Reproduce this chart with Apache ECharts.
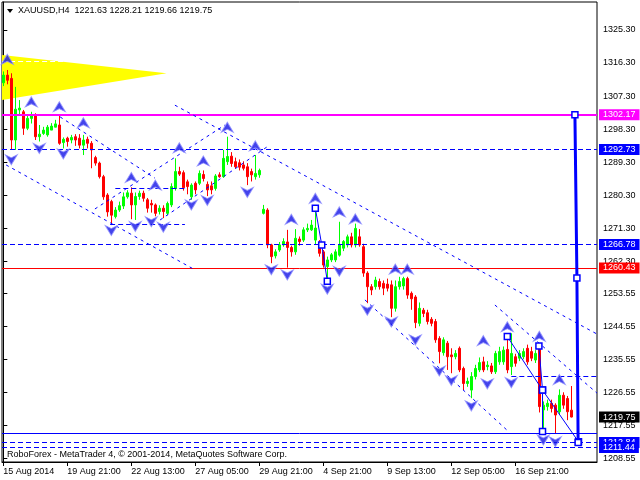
<!DOCTYPE html>
<html><head><meta charset="utf-8">
<script src="https://cdn.jsdelivr.net/npm/echarts@6/dist/echarts.min.js"></script>
<style>html,body{margin:0;padding:0;background:#fff}#c{width:640px;height:480px}</style>
</head><body><div id="c"></div>
<script>
const symbolTitle = 'XAUUSD,H4  1221.63 1228.21 1219.66 1219.75';
const copyright = 'RoboForex - MetaTrader 4, \u00a9 2001-2014, MetaQuotes Software Corp.';
const opens  = [1310.9,1313.0,1312.1,1295.3,1303.5,1303.0,1298.5,1301.2,1302.1,1296.2,1297.1,1296.7,1298.0,1298.8,1299.4,1294.6,1295.8,1295.3,1296.2,1295.8,1293.9,1295.5,1294.4,1290.5,1289.0,1285.3,1280.3,1278.5,1274.4,1276.2,1277.3,1279.8,1280.8,1277.6,1279.9,1280.8,1279.0,1278.0,1277.6,1275.8,1276.7,1275.3,1277.6,1282.1,1286.7,1286.4,1283.9,1279.8,1283.5,1283.5,1285.9,1283.2,1282.8,1282.1,1285.8,1285.3,1289.4,1290.9,1289.4,1289.1,1288.5,1288.0,1286.7,1285.3,1285.8,1275.3,1276.2,1266.7,1263.7,1265.3,1266.7,1267.5,1266.0,1264.8,1268.3,1268.0,1270.8,1270.8,1268.0,1267.1,1264.8,1260.8,1262.6,1262.6,1263.9,1265.8,1266.7,1268.9,1266.7,1268.9,1266.2,1259.0,1255.3,1255.3,1256.7,1256.2,1256.0,1255.8,1249.4,1255.3,1255.5,1257.5,1253.5,1252.5,1245.3,1248.9,1248.2,1246.4,1245.8,1241.2,1237.3,1239.9,1236.7,1236.2,1238.5,1233.0,1228.9,1227.1,1230.8,1232.6,1234.8,1233.5,1233.7,1232.1,1234.8,1234.8,1238.2,1233.5,1236.2,1235.8,1236.2,1238.5,1237.6,1235.3,1238.8,1221.7,1222.6,1223.5,1223.0,1221.2,1225.7,1224.8,1221.63];
const highs  = [1314.0,1314.4,1313.5,1309.8,1306.2,1303.5,1302.1,1303.0,1302.6,1299.4,1298.9,1299.4,1299.9,1300.8,1302.1,1296.0,1296.2,1296.7,1296.9,1296.9,1296.7,1296.2,1295.0,1291.0,1289.4,1285.8,1280.8,1279.0,1277.0,1278.5,1281.0,1281.6,1282.4,1281.0,1281.5,1281.5,1279.5,1279.0,1278.0,1277.5,1277.5,1278.5,1283.5,1290.3,1288.0,1287.0,1284.5,1283.5,1284.0,1287.0,1287.0,1284.0,1284.0,1286.0,1286.5,1292.6,1296.2,1292.0,1290.5,1290.0,1289.5,1289.0,1287.5,1291.2,1287.5,1277.6,1276.7,1267.0,1265.5,1267.5,1268.5,1270.8,1266.5,1271.0,1269.0,1271.5,1272.5,1273.5,1276.7,1268.0,1265.3,1263.5,1264.5,1265.5,1273.0,1268.0,1269.5,1270.0,1272.5,1271.0,1267.0,1259.5,1256.0,1258.0,1257.5,1257.0,1257.5,1257.0,1257.0,1258.0,1258.0,1258.0,1254.0,1253.0,1251.0,1249.5,1249.0,1247.0,1246.5,1241.8,1241.5,1240.5,1238.5,1238.0,1239.0,1233.5,1230.5,1232.0,1234.0,1236.0,1236.2,1235.0,1234.5,1237.8,1238.9,1239.0,1241.2,1242.6,1237.0,1238.0,1238.5,1239.5,1238.9,1238.0,1239.3,1224.0,1224.5,1224.5,1223.5,1227.3,1226.5,1225.5,1228.21];
const lows   = [1310.0,1310.5,1292.6,1292.6,1302.1,1296.7,1298.0,1299.8,1295.3,1294.9,1296.7,1296.2,1298.0,1298.8,1294.0,1293.0,1293.5,1294.4,1293.7,1293.0,1291.2,1293.0,1287.6,1288.3,1284.8,1279.0,1274.4,1272.1,1273.9,1275.7,1276.5,1279.3,1273.7,1273.5,1279.0,1278.5,1275.5,1275.5,1274.5,1275.0,1274.0,1274.8,1277.0,1281.5,1285.5,1281.5,1280.5,1279.0,1280.5,1283.0,1284.0,1280.0,1280.5,1281.5,1285.0,1285.0,1288.5,1288.0,1287.5,1287.0,1287.0,1283.0,1284.0,1284.5,1285.0,1275.0,1265.8,1261.7,1263.0,1264.8,1266.2,1260.5,1263.5,1264.0,1266.5,1267.5,1270.2,1270.5,1266.7,1263.5,1260.5,1257.0,1262.0,1262.0,1263.5,1265.0,1266.0,1266.0,1266.0,1266.2,1258.0,1250.8,1253.0,1254.5,1254.5,1253.0,1254.0,1247.0,1248.5,1254.5,1254.5,1252.0,1249.0,1244.0,1244.5,1247.0,1245.0,1244.5,1240.0,1234.4,1236.5,1232.6,1231.7,1235.5,1232.0,1227.1,1228.0,1224.9,1230.0,1232.0,1232.0,1232.5,1231.5,1231.5,1234.0,1234.0,1231.7,1231.2,1233.5,1235.0,1235.5,1234.0,1235.0,1234.5,1221.0,1215.9,1221.5,1221.0,1215.3,1220.5,1222.0,1218.9,1219.66];
const closes = [1313.0,1311.6,1295.3,1303.7,1304.0,1298.5,1301.2,1301.9,1296.2,1296.9,1298.0,1298.8,1299.1,1299.7,1294.4,1295.5,1294.9,1296.0,1295.3,1293.9,1295.3,1294.4,1292.6,1289.0,1285.3,1279.8,1275.7,1274.8,1276.2,1277.4,1279.8,1280.9,1277.6,1279.9,1280.8,1279.4,1276.7,1277.6,1275.3,1276.7,1275.8,1278.0,1282.6,1286.7,1286.0,1282.3,1282.6,1283.0,1281.7,1286.2,1284.8,1281.7,1281.7,1285.5,1285.3,1290.3,1290.8,1288.9,1288.0,1287.9,1287.6,1285.3,1285.8,1286.2,1287.0,1276.4,1266.7,1263.5,1264.8,1266.7,1267.6,1266.0,1264.8,1268.5,1267.6,1270.8,1271.2,1272.1,1271.3,1264.4,1261.2,1262.6,1264.0,1264.8,1266.7,1267.6,1268.9,1266.7,1271.2,1266.7,1259.0,1255.3,1254.4,1257.1,1255.3,1254.9,1254.9,1249.4,1255.3,1256.7,1257.5,1253.0,1252.0,1245.5,1249.4,1248.0,1245.8,1245.3,1240.8,1237.6,1240.8,1236.2,1236.2,1237.1,1232.6,1228.9,1229.5,1230.8,1233.0,1234.6,1232.6,1233.9,1232.1,1237.1,1237.6,1238.0,1232.6,1237.1,1234.4,1237.1,1237.6,1234.8,1235.8,1237.1,1222.6,1223.0,1223.5,1222.1,1220.3,1225.7,1223.0,1221.2,1219.75];
const timeTickIndex  = [0,16,32,48,64,80,96,112,128];
const timeTickLabels = ['15 Aug 2014','19 Aug 21:00','22 Aug 13:00','27 Aug 05:00','29 Aug 21:00','4 Sep 21:00','9 Sep 13:00','12 Sep 05:00','16 Sep 21:00'];
const priceTicks = [1325.30,1316.30,1307.30,1298.30,1289.30,1280.30,1271.30,1262.30,1253.55,1244.55,1235.55,1226.55,1217.55,1208.55];
const upFractals = [[1,1317.3],[7,1305.7],[14,1304.4],[20,1300.0],[32,1285.1],[38,1283.0],[44,1293.2],[50,1289.6],[56,1298.8],[63,1293.7],[72,1273.7],[78,1279.4],[84,1275.7],[88,1273.8],[98,1260.1],[101,1260.1],[120,1240.6],[126,1244.4],[134,1241.8],[139,1230.0]];
const downFractals = [[2,1289.9],[9,1293.0],[15,1291.5],[27,1270.6],[33,1271.7],[37,1273.0],[40,1271.5],[47,1277.6],[51,1278.8],[61,1281.0],[67,1259.9],[71,1258.5],[81,1254.6],[84,1259.5],[91,1248.9],[97,1245.7],[103,1240.8],[109,1232.3],[112,1229.7],[117,1222.8],[121,1228.8],[127,1229.1],[135,1213.5],[138,1213.0]];
const resistance = 1302.17, level2 = 1292.73, level3 = 1266.78, support = 1260.43;
const lowLine = 1215.3, target1 = 1212.84, target2 = 1211.44;
const bid = closes[closes.length - 1];
const diagLines = [
  [[42.9,1304.8],[148.4,1242.4]],
  [[0.7,1288.5],[47.9,1259.9]],
  [[14.2,1301.6],[37.9,1284.9]],
  [[22.9,1276.5],[55.4,1299.4]],
  [[39.2,1273.5],[65.9,1293.4]],
  [[90.4,1251.7],[125.9,1216.2]],
  [[122.9,1250.3],[148.4,1226.3]]
];
const shortLevels = [
  [[26.7,1272.4],[45.4,1272.4]],
  [[28,1282.1],[46,1282.1]],
  [[127,1230.9],[148.4,1230.9]]
];
const triangleLine = [[-0.3,1316.7],[26.7,1316.7]];
const triangle = [[-0.33,1318.5],[40.8,1313.5],[-0.33,1306.2]];
const zig1 = [[78,1276.7],[79.6,1266.7],[81,1256.8]];
const zig2 = [[126,1241.7],[134.8,1227.1],[143.8,1213.0]];
const zig3 = [[133.9,1239.1],[134.8,1227.1],[134.8,1215.8]];
const projection = [[142.9,1302.17],[143.4,1257.7],[143.7,1212.84]];

const FONT = 'Liberation Sans';
const BLUE = '#0000ff';
const chart = echarts.init(document.getElementById('c'), null, {renderer:'canvas'});

function lvl(v, color, type, width, showLabel, bg) {
  return {
    yAxis: v,
    lineStyle: {color: color, type: type, width: width},
    label: showLabel ? {show:true, position:'end', distance:2, formatter: v.toFixed(2),
      color:'#fff', backgroundColor: bg || color, padding:[1,4,0,4], fontSize:9, lineHeight:10, fontFamily:FONT} : {show:false}
  };
}
const markData = [
  lvl(level2, BLUE, [5,3], 1, true),
  lvl(level3, BLUE, [5,3], 1, true),
  lvl(support, '#ff0000', 'solid', 1, true),
  lvl(lowLine, BLUE, 'solid', 1, false),
  lvl(target1, BLUE, [5,3], 1, true),
  lvl(target2, BLUE, [5,3], 1, true),
  lvl(resistance, '#ff00ff', 'solid', 2, true),
  lvl(bid, 'rgba(0,0,0,0)', 'solid', 1, true, '#000')
];
diagLines.forEach(l => markData.push([{coord:l[0], lineStyle:{color:BLUE, type:[3,4], width:1}, label:{show:false}}, {coord:l[1]}]));
shortLevels.forEach(l => markData.push([{coord:l[0], lineStyle:{color:BLUE, type:[5,3], width:1}, label:{show:false}}, {coord:l[1]}]));
markData.push([{coord:triangleLine[0], lineStyle:{color:'#fff', type:[5,3], width:1}, label:{show:false}}, {coord:triangleLine[1]}]);

const upSym = 'path://M6,0L12,10L6,7L0,10Z';
const dnSym = 'path://M0,0L6,3L12,0L6,10Z';

function zigSeries(pts, width) {
  return {type:'line', data: pts, symbol:'rect', symbolSize:6, showSymbol:true,
    lineStyle:{color:BLUE, width:width}, itemStyle:{color:'#fff', borderColor:BLUE, borderWidth:1.5},
    z: 7, silent:true};
}

chart.setOption({
  animation:false,
  textStyle:{fontFamily:FONT},
  grid:{left:2, top:2, right:43, bottom:18, show:true, borderColor:'#000', borderWidth:1, backgroundColor:'#fff'},
  xAxis:{type:'value', min:-0.33, max:148.42,
    axisLine:{show:true, lineStyle:{color:'#000'}},
    axisTick:{show:true, customValues: timeTickIndex, length:4, lineStyle:{color:'#000'}},
    axisLabel:{show:true, customValues: timeTickIndex, formatter: v => timeTickLabels[timeTickIndex.indexOf(Math.round(v))] || '',
      align:'left', margin:5, fontSize:9, color:'#000', fontFamily:FONT},
    splitLine:{show:false}},
  yAxis:{type:'value', position:'right', min:1207.49, max:1332.94, scale:true,
    axisLine:{show:true, lineStyle:{color:'#000'}},
    axisTick:{show:true, customValues: priceTicks, length:4, lineStyle:{color:'#000'}},
    axisLabel:{show:true, customValues: priceTicks, formatter: v => Number(v).toFixed(2), margin:6, fontSize:9, color:'#000', fontFamily:FONT},
    splitLine:{show:false}},
  graphic:[
    {type:'polygon', shape:{points:[[7,9],[13,9],[10,13]]}, style:{fill:'#000'}, z:100},
    {type:'text', left:18, top:6, style:{text:symbolTitle, fontSize:9, fill:'#000', fontFamily:FONT}, z:100},
    {type:'text', left:7, top:450, style:{text:copyright, fontSize:9, fill:'#000', fontFamily:FONT}, z:100}
  ],
  series:[
    {type:'custom', silent:true, z:1, data:[triangle[1]],
      renderItem:(params, api) => ({type:'polygon', shape:{points: triangle.map(p => api.coord(p))}, style:{fill:'#ffff00'}})},
    {type:'candlestick', z:2, barWidth:3,
      data: opens.map((o,i) => [i, o, closes[i], lows[i], highs[i]]),
      encode:{x:0, y:[1,2,3,4]},
      itemStyle:{color:'#00ff00', color0:'#ff0000', borderColor:'#00ff00', borderColor0:'#ff0000', borderWidth:1},
      markLine:{symbol:['none','none'], silent:true, animation:false, data: markData}},
    {type:'scatter', data: upFractals, symbol: upSym, symbolSize:[12,10], z:6, silent:true,
      itemStyle:{color:'#1414e6', borderColor:'#8c8cff', borderWidth:1}},
    {type:'scatter', data: downFractals, symbol: dnSym, symbolSize:[12,10], z:6, silent:true,
      itemStyle:{color:'#1414e6', borderColor:'#8c8cff', borderWidth:1}},
    zigSeries(zig1, 1),
    zigSeries(zig2, 1),
    zigSeries(zig3, 1),
    zigSeries(projection, 3)
  ]
});
</script></body></html>
